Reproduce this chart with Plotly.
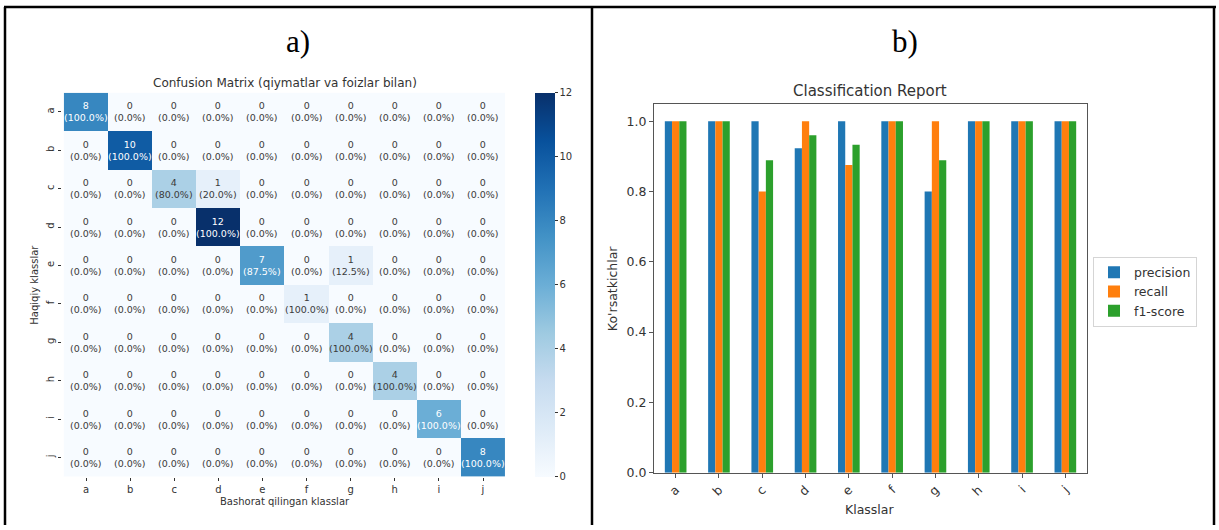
import plotly.graph_objects as go

# ---------------- data ----------------
classes = ["a", "b", "c", "d", "e", "f", "g", "h", "i", "j"]

# confusion matrix rows: true class, columns: predicted class
cm_a = [8, 0, 0, 0, 0, 0, 0, 0, 0, 0]
cm_b = [0, 10, 0, 0, 0, 0, 0, 0, 0, 0]
cm_c = [0, 0, 4, 1, 0, 0, 0, 0, 0, 0]
cm_d = [0, 0, 0, 12, 0, 0, 0, 0, 0, 0]
cm_e = [0, 0, 0, 0, 7, 0, 1, 0, 0, 0]
cm_f = [0, 0, 0, 0, 0, 1, 0, 0, 0, 0]
cm_g = [0, 0, 0, 0, 0, 0, 4, 0, 0, 0]
cm_h = [0, 0, 0, 0, 0, 0, 0, 4, 0, 0]
cm_i = [0, 0, 0, 0, 0, 0, 0, 0, 6, 0]
cm_j = [0, 0, 0, 0, 0, 0, 0, 0, 0, 8]
cm = [cm_a, cm_b, cm_c, cm_d, cm_e, cm_f, cm_g, cm_h, cm_i, cm_j]

precision = [1.0, 1.0, 1.0, 0.923, 1.0, 1.0, 0.8, 1.0, 1.0, 1.0]
recall = [1.0, 1.0, 0.8, 1.0, 0.875, 1.0, 1.0, 1.0, 1.0, 1.0]
f1_score = [1.0, 1.0, 0.889, 0.96, 0.933, 1.0, 0.889, 1.0, 1.0, 1.0]

cbar_ticks = [0, 2, 4, 6, 8, 10, 12]

# ---------------- page geometry helpers (pixels -> paper) ----------------
W, H = 1219, 530


def px(x):
    return x / W


def py(y):
    return 1 - y / H


FONT = "DejaVu Sans"
TXT = "#333333"

blues = [
    [0.0, "#f7fbff"], [0.125, "#deebf7"], [0.25, "#c6dbef"],
    [0.375, "#9ecae1"], [0.5, "#6baed6"], [0.625, "#4292c6"],
    [0.75, "#2171b5"], [0.875, "#08519c"], [1.0, "#08306b"],
]


def blues_rgb(t):
    t = min(max(t, 0.0), 1.0)
    for (t0, c0), (t1, c1) in zip(blues[:-1], blues[1:]):
        if t <= t1:
            f = 0 if t1 == t0 else (t - t0) / (t1 - t0)
            a = [int(c0[k:k + 2], 16) for k in (1, 3, 5)]
            b = [int(c1[k:k + 2], 16) for k in (1, 3, 5)]
            return [a[i] + f * (b[i] - a[i]) for i in range(3)]
    return [8, 48, 107]


def luminance(rgb):
    out = []
    for c in rgb:
        c = c / 255
        out.append(c / 12.92 if c <= 0.03928 else ((c + 0.055) / 1.055) ** 2.4)
    return 0.2126 * out[0] + 0.7152 * out[1] + 0.0722 * out[2]


fig = go.Figure()

# ---------------- a) confusion matrix ----------------
zmax = max(max(r) for r in cm)
fig.add_trace(go.Heatmap(
    z=cm, x=classes, y=classes,
    colorscale=blues, zmin=0, zmax=zmax,
    xaxis="x", yaxis="y", hoverinfo="skip",
    colorbar=dict(
        x=px(535), xanchor="left", xpad=0,
        y=py(94), yanchor="top", ypad=0,
        len=(483 - 94) / H, lenmode="fraction",
        thickness=20, thicknessmode="pixels",
        outlinewidth=0,
        tickvals=cbar_ticks, ticks="outside", ticklen=3,
        tickcolor=TXT, tickwidth=1,
        tickfont=dict(family=FONT, size=10, color=TXT),
    ),
))

annotations = []
for i, row in enumerate(cm):
    total = sum(row)
    for j, v in enumerate(row):
        pct = 100.0 * v / total if total else 0.0
        col = "white" if luminance(blues_rgb(v / zmax)) <= 0.408 else "#3a3a3a"
        annotations.append(dict(
            x=classes[j], y=classes[i], xref="x", yref="y",
            text=f"{v}<br>({pct:.1f}%)", showarrow=False,
            font=dict(family=FONT, size=9.5, color=col),
            xanchor="center", yanchor="middle",
        ))

# ---------------- b) classification report ----------------
bar_colors = ["#1f77b4", "#ff7f0e", "#2ca02c"]
for name, vals, c in zip(["precision", "recall", "f1-score"],
                         [precision, recall, f1_score], bar_colors):
    fig.add_trace(go.Bar(
        x=classes, y=vals, name=name, marker=dict(color=c, line=dict(width=0)),
        xaxis="x2", yaxis="y2", hoverinfo="skip",
    ))

# ---------------- text labels ----------------
def label(text, x, y, size, angle=0, family=FONT, color=TXT):
    annotations.append(dict(
        text=text, x=px(x), y=py(y), xref="paper", yref="paper",
        showarrow=False, textangle=angle, xanchor="center", yanchor="middle",
        font=dict(family=family, size=size, color=color),
    ))


label("a)", 298, 42, 31, family="Liberation Serif", color="black")
label("b)", 905, 42, 31, family="Liberation Serif", color="black")
label("Confusion Matrix (qiymatlar va foizlar bilan)", 284.5, 84, 12)
label("Haqiqiy klasslar", 35, 288.5, 10, angle=-90)
label("Bashorat qilingan klasslar", 284.5, 508, 10)
label("Classification Report", 870, 92, 15)
label("Ko'rsatkichlar", 612, 292, 12.5, angle=-90)
label("Klasslar", 870, 516, 12.5)

# ---------------- page frame ----------------
frame = dict(type="line", xref="paper", yref="paper",
             line=dict(color="black", width=2.5))
shapes = [
    dict(frame, x0=px(4), x1=px(1216), y0=py(7), y1=py(7)),
    dict(frame, x0=px(5), x1=px(5), y0=py(7), y1=py(532)),
    dict(frame, x0=px(592), x1=px(592), y0=py(7), y1=py(532)),
    dict(frame, x0=px(1214), x1=px(1214), y0=py(7), y1=py(532)),
]

fig.update_layout(
    width=W, height=H, autosize=False,
    margin=dict(l=0, r=0, t=0, b=0),
    paper_bgcolor="white", plot_bgcolor="white",
    font=dict(family=FONT, color=TXT),
    annotations=annotations, shapes=shapes,
    barmode="group", bargap=0.5, bargroupgap=0,
    xaxis=dict(
        domain=[px(62), px(507)], anchor="y",
        showgrid=False, zeroline=False, showline=False,
        ticks="outside", ticklen=3, tickcolor=TXT,
        tickfont=dict(family=FONT, size=10, color=TXT),
    ),
    yaxis=dict(
        domain=[py(483), py(94)], anchor="x",
        autorange="reversed",
        showgrid=False, zeroline=False, showline=False,
        ticks="outside", ticklen=3, tickcolor=TXT, tickangle=-90,
        tickfont=dict(family=FONT, size=10, color=TXT),
    ),
    xaxis2=dict(
        domain=[px(654), px(1087)], anchor="y2",
        range=[-0.5, 9.5], type="category",
        showgrid=False, zeroline=False,
        showline=True, mirror=True, linecolor="#555555", linewidth=1,
        ticks="outside", ticklen=4, tickcolor="#555555", tickangle=-45,
        tickfont=dict(family=FONT, size=12.5, color=TXT),
    ),
    yaxis2=dict(
        domain=[py(479), py(105)], anchor="x2",
        range=[0, 1.05], tickvals=[0, 0.2, 0.4, 0.6, 0.8, 1.0],
        tickformat=".1f",
        showgrid=False, zeroline=False,
        showline=True, mirror=True, linecolor="#555555", linewidth=1,
        ticks="outside", ticklen=4, tickcolor="#555555",
        tickfont=dict(family=FONT, size=12.5, color=TXT),
    ),
    legend=dict(
        x=px(1093), xanchor="left", y=py(260), yanchor="top",
        bgcolor="white", bordercolor="#d5d5d5", borderwidth=1,
        font=dict(family=FONT, size=12.5, color=TXT),
        tracegroupgap=0,
    ),
    showlegend=True,
)

fig.write_html("out.html")
